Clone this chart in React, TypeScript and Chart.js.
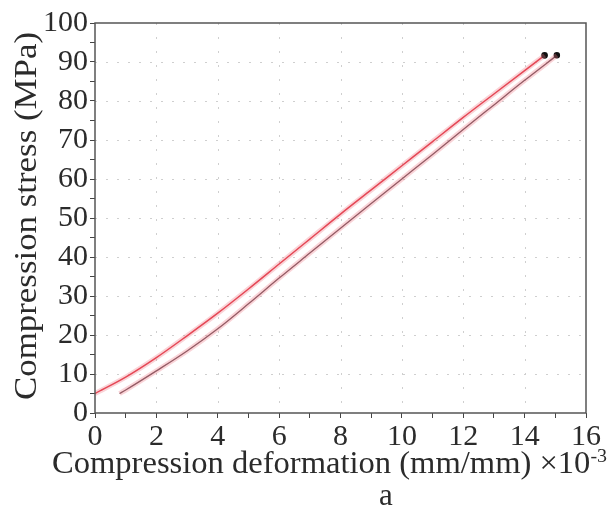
import { useEffect, useRef } from 'react';
import { Chart, registerables } from 'chart.js';

Chart.register(...registerables);

const FONT = '"Liberation Serif", "Times New Roman", serif';

// Curve 1 (red, left)
const strainA = [0, 1, 2, 3, 4, 5, 6, 7, 8, 9, 10, 11, 12, 13, 14, 14.65];
const stressA = [5, 9.2, 14.2, 19.8, 25.6, 31.8, 38.2, 44.6, 51, 57.2, 63.4, 69.6, 75.8, 81.8, 87.8, 91.7];
// Curve 2 (dark, right)
const strainB = [0.8, 1, 2, 3, 4, 5, 6, 7, 8, 9, 10, 11, 12, 13, 14, 15.05];
const stressB = [5, 5.9, 10.8, 15.9, 21.6, 28, 34.6, 41, 47.4, 53.7, 60, 66.3, 72.7, 79, 85.3, 91.7];

const xTickLabels = [0, 2, 4, 6, 8, 10, 12, 14, 16];
const yTickLabels = [0, 10, 20, 30, 40, 50, 60, 70, 80, 90, 100];
const xGridValues = [2, 4, 6, 8, 10, 12, 14];
const yGridValues = [10, 20, 30, 40, 50, 60, 70, 80, 90];

const yTitle = 'Compression stress (MPa)';
const xTitle = 'Compression deformation (mm/mm) \u00d710';
const xTitleSup = '-3';
const caption = 'a';

const toPoints = (xs: number[], ys: number[]) => xs.map((x, i) => ({ x, y: ys[i] }));

const decor = {
  id: 'decor',
  beforeDatasetsDraw(chart: any) {
    const { ctx, chartArea, scales } = chart;
    ctx.save();
    ctx.strokeStyle = '#cfcfcf';
    ctx.lineWidth = 1;
    ctx.setLineDash([2, 9]);
    yGridValues.forEach((v) => {
      const y = Math.round(scales.y.getPixelForValue(v)) + 0.5;
      ctx.beginPath();
      ctx.moveTo(chartArea.left, y);
      ctx.lineTo(chartArea.right, y);
      ctx.stroke();
    });
    ctx.setLineDash([2, 12]);
    xGridValues.forEach((v) => {
      const x = Math.round(scales.x.getPixelForValue(v)) + 0.5;
      ctx.beginPath();
      ctx.moveTo(x, chartArea.top);
      ctx.lineTo(x, chartArea.bottom);
      ctx.stroke();
    });
    ctx.restore();
  },
  afterDraw(chart: any) {
    const { ctx, chartArea } = chart;
    ctx.save();
    ctx.strokeStyle = '#555';
    ctx.lineWidth = 1.5;
    ctx.strokeRect(chartArea.left, chartArea.top, chartArea.right - chartArea.left, chartArea.bottom - chartArea.top);

    ctx.fillStyle = '#2b2b2b';
    // y title
    ctx.font = `31px ${FONT}`;
    ctx.textBaseline = 'middle';
    ctx.textAlign = 'center';
    const wy = ctx.measureText(yTitle).width;
    ctx.save();
    ctx.translate(28, 216);
    ctx.rotate(-Math.PI / 2);
    ctx.scale(368 / wy, 1);
    ctx.fillText(yTitle, 0, 0);
    ctx.restore();

    // x title with superscript
    ctx.font = `31px ${FONT}`;
    const wm = ctx.measureText(xTitle).width;
    ctx.font = `19px ${FONT}`;
    const ws = ctx.measureText(xTitleSup).width;
    const total = wm + ws;
    const sx = 555 / total;
    ctx.save();
    ctx.translate(329.5, 465);
    ctx.scale(sx, 1);
    ctx.textAlign = 'left';
    ctx.font = `31px ${FONT}`;
    ctx.fillText(xTitle, -total / 2, 0);
    ctx.font = `19px ${FONT}`;
    ctx.fillText(xTitleSup, -total / 2 + wm, -8);
    ctx.restore();

    // caption
    ctx.font = `31px ${FONT}`;
    ctx.textAlign = 'center';
    ctx.fillText(caption, 386, 497);
    ctx.restore();
  },
};

export default function App() {
  const ref = useRef<HTMLCanvasElement>(null);
  useEffect(() => {
    const canvas = ref.current!;
    const lastA = strainA.length - 1;
    const lastB = strainB.length - 1;
    const chart = new Chart(canvas, {
      type: 'scatter',
      data: {
        datasets: [
          {
            data: toPoints(strainA, stressA),
            showLine: true,
            borderColor: 'rgba(240,120,135,0.32)',
            borderWidth: 5,
            pointRadius: 0,
            cubicInterpolationMode: 'monotone',
          },
          {
            data: toPoints(strainB, stressB),
            showLine: true,
            borderColor: 'rgba(240,120,135,0.32)',
            borderWidth: 5,
            pointRadius: 0,
            cubicInterpolationMode: 'monotone',
          },
          {
            data: toPoints(strainA, stressA),
            showLine: true,
            borderColor: '#e0303f',
            borderWidth: 1.5,
            pointRadius: (c: any) => (c.dataIndex === lastA ? 2.6 : 0),
            pointBackgroundColor: '#111',
            pointBorderColor: '#111',
            cubicInterpolationMode: 'monotone',
          },
          {
            data: toPoints(strainB, stressB),
            showLine: true,
            borderColor: '#6a4d55',
            borderWidth: 1.3,
            pointRadius: (c: any) => (c.dataIndex === lastB ? 2.6 : 0),
            pointBackgroundColor: '#111',
            pointBorderColor: '#111',
            cubicInterpolationMode: 'monotone',
          },
        ] as any,
      },
      options: {
        responsive: false,
        animation: false,
        devicePixelRatio: 1,
        layout: { padding: { top: 23, right: 24, bottom: 0, left: 0 } },
        plugins: { legend: { display: false }, tooltip: { enabled: false } },
        scales: {
          x: {
            type: 'linear',
            min: 0,
            max: 16,
            ticks: {
              stepSize: 1,
              autoSkip: false,
              maxRotation: 0,
              padding: 1,
              color: '#2b2b2b',
              font: { family: FONT, size: 30 },
              callback: (v: any) => (xTickLabels.includes(Math.round(v)) && Math.abs(v - Math.round(v)) < 1e-6 ? String(Math.round(v)) : ''),
            },
            grid: { color: 'rgba(0,0,0,0)', tickColor: '#444', tickLength: 5, drawOnChartArea: false },
            border: { display: false },
            afterFit: (s: any) => {
              s.height = 111;
            },
          },
          y: {
            type: 'linear',
            min: 0,
            max: 100,
            ticks: {
              stepSize: 5,
              autoSkip: false,
              padding: 2,
              color: '#2b2b2b',
              font: { family: FONT, size: 30 },
              callback: (v: any) => (yTickLabels.includes(Math.round(v)) ? String(Math.round(v)) : ''),
            },
            grid: { color: 'rgba(0,0,0,0)', tickColor: '#444', tickLength: 5, drawOnChartArea: false },
            border: { display: false },
            afterFit: (s: any) => {
              s.width = 95;
            },
          },
        },
      } as any,
      plugins: [decor],
    });
    return () => chart.destroy();
  }, []);
  return (
    <div style={{ position: 'absolute', left: 0, top: 0, width: 610, height: 524, background: '#fff' }}>
      <canvas ref={ref} width={610} height={524} style={{ display: 'block' }} />
    </div>
  );
}
